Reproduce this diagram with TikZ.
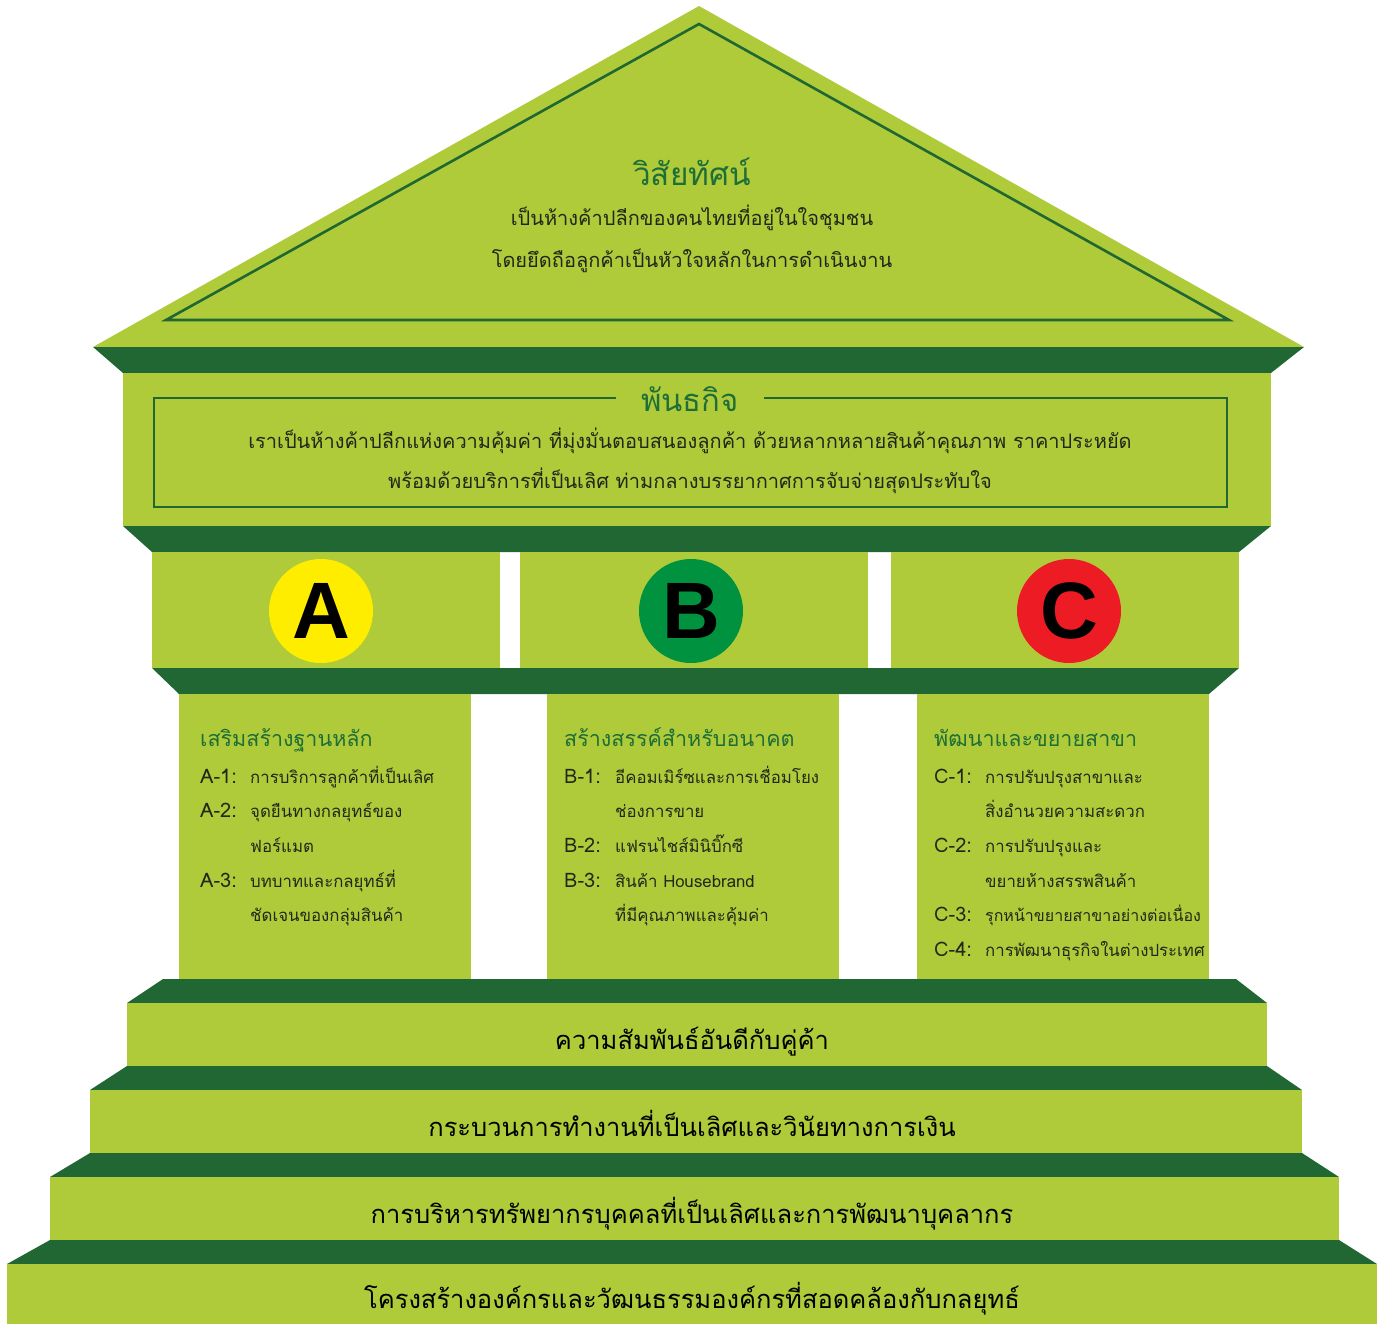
\documentclass[tikz,border=0pt]{standalone}
\usepackage{fontspec}
\newfontfamily\thai[Script=Thai]{Loma}
\newfontfamily\abcfont{Liberation Sans}
\definecolor{lg}{RGB}{176,203,58}
\definecolor{dg}{RGB}{33,103,52}
\definecolor{tg}{RGB}{30,110,55}
\definecolor{txt}{RGB}{35,38,25}
\definecolor{cy}{RGB}{255,237,0}
\definecolor{cg}{RGB}{0,146,63}
\definecolor{cr}{RGB}{237,28,36}
\tikzset{
  band/.style={fill=dg},
  face/.style={fill=lg},
  frameline/.style={draw=dg, line width=2.6pt},
  bigtitle/.style={font=\thai\fontsize{31.5}{31.5}\selectfont, text=tg, anchor=base, inner sep=0pt},
  midtitle/.style={font=\thai\fontsize{31}{31}\selectfont, text=tg, anchor=base, fill=lg, inner xsep=25pt, inner ysep=4pt},
  bodytext/.style={font=\thai\fontsize{20}{20}\selectfont, text=txt, anchor=base, inner sep=0pt},
  coltitle/.style={font=\thai\fontsize{21.5}{21.5}\selectfont, text=tg, anchor=base west, inner sep=0pt},
  itemlabel/.style={font=\thai\fontsize{20}{20}\selectfont, text=txt, anchor=base west, inner sep=0pt},
  itemtext/.style={font=\thai\fontsize{16.8}{16.8}\selectfont, text=txt, anchor=base west, inner sep=0pt},
  steptext/.style={font=\thai\fontsize{25.5}{25.5}\selectfont, text=black, anchor=base, inner sep=0pt},
  badge/.style={circle, minimum size=104pt, inner sep=0pt, text=black, font=\abcfont\bfseries\fontsize{80}{80}\selectfont}
}
\begin{document}
\begin{tikzpicture}[x=1pt,y=-1pt]
\useasboundingbox (0,0) rectangle (1383,1324);
% roof
\fill[face] (93,347) -- (699,6) -- (1304,347) -- cycle;
\draw[frameline, line join=miter] (166,320) -- (699,24) -- (1229,320) -- cycle;
% band 1 and mission block
\fill[band] (93,347) -- (1304,347) -- (1271,373) -- (123,373) -- cycle;
\fill[face] (123,373) rectangle (1271,526);
\draw[frameline] (154,398) rectangle (1227,507);
% band 2
\fill[band] (123,526) -- (1271,526) -- (1239,552) -- (152,552) -- cycle;
% capitals
\fill[face] (152,552) rectangle (500,668);
\fill[face] (520,552) rectangle (868,668);
\fill[face] (891,552) rectangle (1239,668);
% band 3
\fill[band] (152,668) -- (1239,668) -- (1209,694) -- (179,694) -- cycle;
% columns
\fill[face] (179,694) rectangle (471,979);
\fill[face] (547,694) rectangle (839,979);
\fill[face] (917,694) rectangle (1209,979);
% steps
\fill[band] (163,979) -- (1236,979) -- (1267,1003) -- (127,1003) -- cycle;
\fill[face] (127,1003) rectangle (1267,1066);
\fill[band] (127,1066) -- (1267,1066) -- (1302,1090) -- (90,1090) -- cycle;
\fill[face] (90,1090) rectangle (1302,1153);
\fill[band] (90,1153) -- (1302,1153) -- (1339,1177) -- (50,1177) -- cycle;
\fill[face] (50,1177) rectangle (1339,1240);
\fill[band] (50,1240) -- (1339,1240) -- (1377,1264) -- (7,1264) -- cycle;
\fill[face] (7,1264) rectangle (1377,1324);

% vision
\node[bigtitle] (vt) at (692,186) {วิสัยทัศน์};
\node[bodytext] (v1) at (692,226) {เป็นห้างค้าปลีกของคนไทยที่อยู่ในใจชุมชน};
\node[bodytext] (v2) at (692,267) {โดยยึดถือลูกค้าเป็นหัวใจหลักในการดำเนินงาน};
% mission
\node[midtitle] (mt) at (690,411) {พันธกิจ};
\node[bodytext] (m1) at (690,448) {เราเป็นห้างค้าปลีกแห่งความคุ้มค่า ที่มุ่งมั่นตอบสนองลูกค้า ด้วยหลากหลายสินค้าคุณภาพ ราคาประหยัด};
\node[bodytext] (m2) at (690,488) {พร้อมด้วยบริการที่เป็นเลิศ ท่ามกลางบรรยากาศการจับจ่ายสุดประทับใจ};
% badges
\node[badge, fill=cy] (ba) at (321,611) {A};
\node[badge, fill=cg] (bb) at (691,611) {B};
\node[badge, fill=cr] (bc) at (1069,611) {C};
% column A
\node[coltitle] (at) at (200,746) {เสริมสร้างฐานหลัก};
\node[itemlabel] (a1l) at (200,783) {A-1:};
\node[itemtext] (a1) at (250,783) {การบริการลูกค้าที่เป็นเลิศ};
\node[itemlabel] (a2l) at (200,817.5) {A-2:};
\node[itemtext] (a2) at (250,817.5) {จุดยืนทางกลยุทธ์ของ};
\node[itemtext] (a2b) at (250,852) {ฟอร์แมต};
\node[itemlabel] (a3l) at (200,887) {A-3:};
\node[itemtext] (a3) at (250,887) {บทบาทและกลยุทธ์ที่};
\node[itemtext] (a3b) at (250,921.5) {ชัดเจนของกลุ่มสินค้า};
% column B
\node[coltitle] (btt) at (564,746) {สร้างสรรค์สำหรับอนาคต};
\node[itemlabel] (b1l) at (564,783) {B-1:};
\node[itemtext] (b1) at (615,783) {อีคอมเมิร์ซและการเชื่อมโยง};
\node[itemtext] (b1b) at (615,817.5) {ช่องการขาย};
\node[itemlabel] (b2l) at (564,852) {B-2:};
\node[itemtext] (b2) at (615,852) {แฟรนไชส์มินิบิ๊กซี};
\node[itemlabel] (b3l) at (564,887) {B-3:};
\node[itemtext] (b3) at (615,887) {สินค้า Housebrand};
\node[itemtext] (b3b) at (615,921.5) {ที่มีคุณภาพและคุ้มค่า};
% column C
\node[coltitle] (ctt) at (934,746) {พัฒนาและขยายสาขา};
\node[itemlabel] (c1l) at (934,783) {C-1:};
\node[itemtext] (c1) at (985,783) {การปรับปรุงสาขาและ};
\node[itemtext] (c1b) at (985,817.5) {สิ่งอำนวยความสะดวก};
\node[itemlabel] (c2l) at (934,852) {C-2:};
\node[itemtext] (c2) at (985,852) {การปรับปรุงและ};
\node[itemtext] (c2b) at (985,887) {ขยายห้างสรรพสินค้า};
\node[itemlabel] (c3l) at (934,921.5) {C-3:};
\node[itemtext, font=\thai\fontsize{16}{16}\selectfont] (c3) at (985,921.5) {รุกหน้าขยายสาขาอย่างต่อเนื่อง};
\node[itemlabel] (c4l) at (934,956) {C-4:};
\node[itemtext] (c4) at (985,956) {การพัฒนาธุรกิจในต่างประเทศ};
% steps
\node[steptext] (s1) at (692,1049) {ความสัมพันธ์อันดีกับคู่ค้า};
\node[steptext] (s2) at (692,1136) {กระบวนการทำงานที่เป็นเลิศและวินัยทางการเงิน};
\node[steptext] (s3) at (692,1223) {การบริหารทรัพยากรบุคคลที่เป็นเลิศและการพัฒนาบุคลากร};
\node[steptext] (s4) at (692,1308) {โครงสร้างองค์กรและวัฒนธรรมองค์กรที่สอดคล้องกับกลยุทธ์};
\end{tikzpicture}
\end{document}
